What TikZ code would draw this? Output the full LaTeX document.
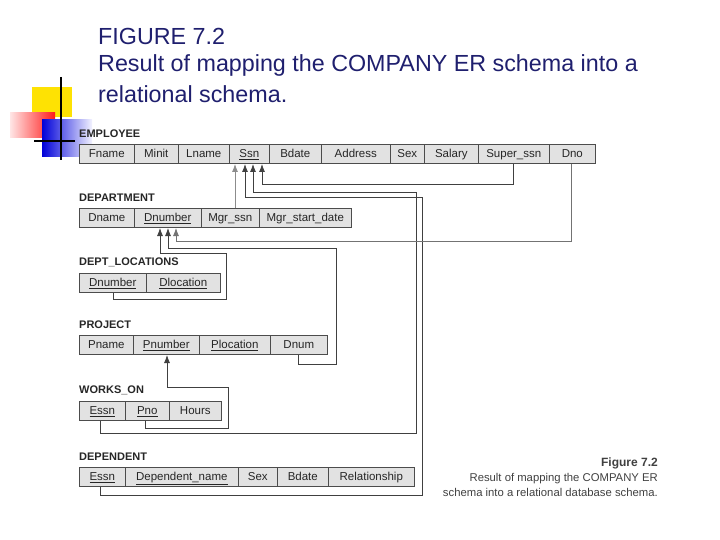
\documentclass[tikz,border=0pt]{standalone}
\usepackage{fontspec}
\setmainfont{Liberation Sans}
\usetikzlibrary{arrows.meta}
\definecolor{navy}{HTML}{1F1F6E}
\definecolor{cellgray}{HTML}{E2E2E2}
\tikzset{
  cellbox/.style={draw=black!70, fill=cellgray, line width=0.6pt, inner sep=0pt, anchor=north west, font=\fontsize{11.5}{11.5}\selectfont, text=black!85, text height=8pt, text depth=0pt},
  tlabel/.style={anchor=south west, inner sep=0pt, font=\fontsize{11}{11}\selectfont\bfseries, text=black!85},
  fk/.style={draw=black!75, line width=0.8pt},
  fka/.style={fk, -{Latex[length=8pt,width=6pt]}},
  ttl/.style={anchor=west, inner sep=0pt, text=navy, font=\fontsize{23.3}{23.3}\selectfont},
}
\newcommand{\ul}[1]{\underline{#1}}
\begin{document}
\begin{tikzpicture}[x=1pt,y=-1pt]
\useasboundingbox (0,0) rectangle (720,540);
% logo
\fill[yellow!85!orange] (32,87) rectangle (72,117);
\shade[left color=red!10, right color=red!90] (10,113) rectangle (55,138);
\shade[left color=blue!85!black, right color=blue!5] (42,120) rectangle (92,157);
\draw[line width=2pt, black] (61,77) -- (61,160);
\draw[line width=2pt, black] (34,141) -- (75,141);
% title
\node[ttl] (t1) at (98,36) {FIGURE 7.2};
\node[ttl] (t2) at (98,65) {Result of mapping the COMPANY ER schema into a};
\node[ttl] (t3) at (98,94) {relational schema.};
% tables
\newcommand{\trow}[3]{%
  \foreach \a/\b/\txt/\nm in {#3} {
    \node[cellbox, minimum width={(\b-\a)*1pt}, minimum height={((#2)-(#1))*1pt}] (\nm) at (\a,#1) {\txt};
  }}
\node[tlabel] (lemp) at (79,138) {EMPLOYEE};
\trow{144}{163}{79/134/Fname/e1, 134/178/Minit/e2, 178/229/Lname/e3, 229/269/\ul{Ssn}/essn, 269/321/Bdate/e5, 321/390/Address/e6, 390/424/Sex/e7, 424/478/Salary/e8, 478/549/Super\_ssn/esup, 549/595/Dno/edno}
\node[tlabel] (ldep) at (79,202) {DEPARTMENT};
\trow{208}{227}{79/134/Dname/d1, 134/201/\ul{Dnumber}/dnum, 201/259/Mgr\_ssn/dmgr, 259/351/Mgr\_start\_date/d4}
\node[tlabel] (lloc) at (79,267) {DEPT\_LOCATIONS};
\trow{273}{292}{79/146/\ul{Dnumber}/ldnum, 146/220/\ul{Dlocation}/lloc2}
\node[tlabel] (lproj) at (79,329) {PROJECT};
\trow{335}{354}{79/133/Pname/p1, 133/199/\ul{Pnumber}/pnum, 199/270/\ul{Plocation}/p3, 270/327/Dnum/pdnum}
\node[tlabel] (lw) at (79,395) {WORKS\_ON};
\trow{401}{420}{79/125/\ul{Essn}/wessn, 125/169/\ul{Pno}/wpno, 169/221/Hours/w3}
\node[tlabel] (ldp) at (79,461) {DEPENDENT};
\trow{467}{486}{79/125/\ul{Essn}/dpessn, 125/238/\ul{Dependent\_name}/dp2, 238/277/Sex/dp3, 277/328/Bdate/dp4, 328/414/Relationship/dp5}
% connectors
\draw[fka] (esup.south) -- (esup.south |- 0,184) -- (262,184) -- (262,164);
\draw[fka, draw=black!45] (dmgr.north -| 235,0) -- (235,164);
\draw[fka] (wessn.south -| 100,0) -- (100,433) -- (416,433) -- (416,192) -- (253,192) -- (253,164);
\draw[fka] (dpessn.south -| 100,0) -- (100,495) -- (422,495) -- (422,197) -- (245,197) -- (245,164);
\draw[fka, draw=black!55] (edno.south -| 571,0) -- (571,241) -- (176,241) -- (176,228);
\draw[fka] (pdnum.south -| 298,0) -- (298,364) -- (336,364) -- (336,248) -- (168,248) -- (168,228);
\draw[fka] (ldnum.south -| 113,0) -- (113,299) -- (226,299) -- (226,253) -- (160,253) -- (160,228);
\draw[fka] (wpno.south -| 145,0) -- (145,428) -- (228,428) -- (228,387) -- (167,387) -- (167,355);
% caption
\node[anchor=north east, align=right, inner sep=0pt, text=black!75, font=\fontsize{11.3}{15}\selectfont] (cap) at (658,458) {{\bfseries\fontsize{12}{15}\selectfont Figure 7.2}\\Result of mapping the COMPANY ER\\schema into a relational database schema.};
\end{tikzpicture}
\end{document}
